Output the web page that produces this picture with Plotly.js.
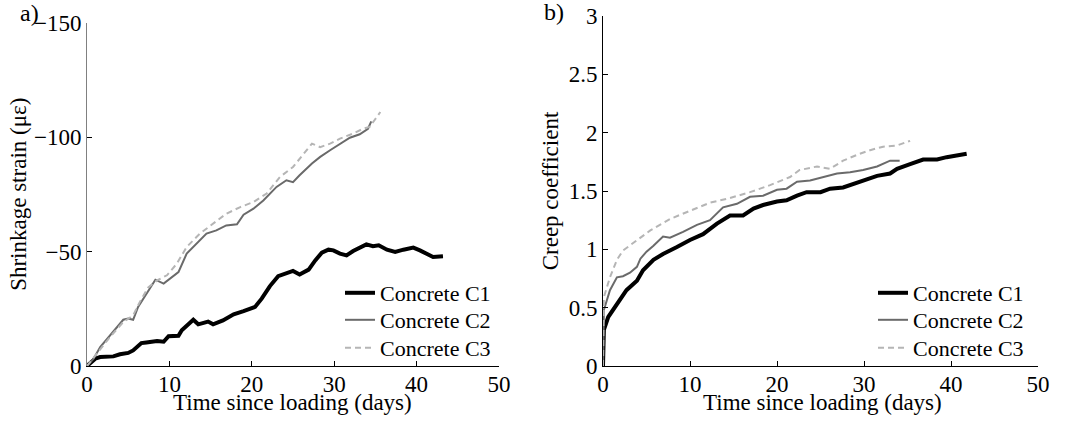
<!DOCTYPE html>
<html>
<head>
<meta charset="utf-8">
<script src="https://cdn.plot.ly/plotly-3.0.1.min.js"></script>
<style>html,body{margin:0;padding:0;background:#fff;}#chart{width:1066px;height:421px;}</style>
</head>
<body>
<div id="chart"></div>
<script>
// ---- Panel a) shrinkage strain (microstrain) ----
const shrinkC1Days = [0,1,1.6,3.2,4,5,5.6,6.6,7.2,8.5,9.3,9.9,11.1,11.5,12.9,13.5,14.7,15.3,16.5,17.8,19,20.4,21.2,22.2,23.2,24.2,25,25.8,26.9,27.7,28.5,29.3,29.9,30.7,31.5,32.3,33.1,33.9,34.7,35.4,36.4,37.4,38.4,39.6,40.4,41.2,42,43.2];
const shrinkC1 = [0,-3.2,-3.9,-4.2,-5.1,-5.7,-6.8,-10,-10.3,-10.9,-10.6,-13,-13.2,-15.6,-20.2,-18.2,-19.4,-18.2,-19.9,-22.6,-24,-25.8,-29.4,-34.9,-39.2,-40.6,-41.5,-40,-42.1,-46.1,-49.5,-50.8,-50.5,-49.1,-48.3,-50.2,-51.7,-53.1,-52.3,-52.7,-50.8,-49.8,-50.8,-51.7,-50.5,-49.1,-47.6,-47.9];

const shrinkC2Days = [0,0.8,1.6,2.8,4.4,5,5.6,6.2,7.2,8.3,9.3,10.1,11.1,12.1,13.3,14.5,15.7,16.9,18.2,19,20.2,21.4,23,24.2,25,25.8,27.3,28.3,29.5,30.7,31.9,33.1,34.1,34.5];
const shrinkC2 = [0,-3.2,-8.3,-13.4,-20.2,-20.7,-20.2,-25.8,-31.6,-37.7,-36,-38.1,-41,-49.1,-53.4,-57.8,-59.2,-61.4,-61.9,-66.1,-68.7,-72.3,-78.2,-81.1,-80.3,-83.3,-88.4,-91.3,-94.2,-97.1,-99.7,-101.2,-103.6,-106.8];

const shrinkC3Days = [0,1.2,2.8,4.4,5.6,6.4,7.4,8.5,9.7,10.9,12.1,13.7,15.3,16.9,18.6,20.2,21.8,23.4,25,26.3,27.3,28.3,29.5,30.7,32.3,33.5,34.3,35.6];
const shrinkC3 = [0,-5.4,-12.7,-19.2,-22.1,-27.9,-34.2,-37.4,-39.6,-44.7,-52,-57.8,-62.2,-66.5,-69.4,-71.6,-75.3,-82.5,-86.9,-92.7,-97.1,-95.6,-97.1,-99.3,-101.5,-103.6,-104.4,-110.9];

// ---- Panel b) creep coefficient ----
const creepC1Days = [0,0.1,0.6,1.6,2.7,3.9,4.6,5.8,6.9,8.5,10,11.5,13.1,14.6,16.1,17.3,18.4,20,21.1,22.3,23.4,25,26.1,27.6,28.8,29.9,31.5,33,33.8,35.3,36.8,38.4,39.5,41.8];
const creepC1 = [0,0.31,0.42,0.53,0.65,0.73,0.82,0.91,0.96,1.02,1.08,1.13,1.22,1.29,1.29,1.35,1.38,1.41,1.42,1.46,1.49,1.49,1.52,1.53,1.56,1.59,1.63,1.65,1.69,1.73,1.77,1.77,1.79,1.82];

const creepC2Days = [0,0.05,0.1,0.8,1.6,2.3,3.1,3.9,4.3,5,5.8,6.9,7.7,9.2,10.8,12.3,13.8,15.4,16.9,18.4,20,21.1,22.3,23.8,25.3,26.9,28.4,29.9,31.5,33,34.1];
const creepC2 = [0,0.35,0.48,0.65,0.76,0.77,0.8,0.85,0.92,0.98,1.03,1.11,1.1,1.15,1.21,1.25,1.36,1.39,1.45,1.46,1.51,1.52,1.58,1.59,1.62,1.65,1.66,1.68,1.71,1.76,1.76];

const creepC3Days = [0,0.1,0.8,1.6,2.3,3.9,5.4,7.7,10,12.3,14.6,16.9,19.2,21.5,22.6,24.6,26.1,27.6,29.2,30.7,32.2,33.8,35.3];
const creepC3 = [0,0.59,0.76,0.91,0.99,1.08,1.16,1.26,1.33,1.40,1.44,1.49,1.55,1.62,1.68,1.71,1.69,1.76,1.81,1.85,1.88,1.89,1.93];

const seriesNames = ['Concrete C1','Concrete C2','Concrete C3'];
const xTicks = [0,10,20,30,40,50];
const shrinkTicks = [-150,-100,-50,0];
const creepTicks = [0,0.5,1,1.5,2,2.5,3];
const xTitle = 'Time since loading (days)';

const FONT = 'Liberation Serif, Times New Roman, serif';
const AXFONT = {family:FONT, size:23, color:'#000'};
const LEGFONT = {family:FONT, size:22, color:'#000'};
const styles = [
  {color:'#000000', width:4, dash:'solid'},
  {color:'#6a6a6a', width:2, dash:'solid'},
  {color:'#b5b5b5', width:2, dash:'6px,4px'}
];

function tr(x, y, i, xa, ya, leg){
  return {x:x, y:y, type:'scatter', mode:'lines', name:seriesNames[i],
    xaxis:xa, yaxis:ya, legend:leg, line:styles[i], hoverinfo:'x+y'};
}

const data = [
  tr(shrinkC1Days, shrinkC1, 0, 'x', 'y', 'legend'),
  tr(shrinkC2Days, shrinkC2, 1, 'x', 'y', 'legend2'),
  tr(shrinkC3Days, shrinkC3, 2, 'x', 'y', 'legend3'),
  tr(creepC1Days, creepC1, 0, 'x2', 'y2', 'legend4'),
  tr(creepC2Days, creepC2, 1, 'x2', 'y2', 'legend5'),
  tr(creepC3Days, creepC3, 2, 'x2', 'y2', 'legend6')
];

const axCommon = {
  showgrid:false, zeroline:false, showline:true, linecolor:'#000', linewidth:1,
  ticks:'inside', ticklen:5, tickcolor:'#000', tickwidth:1, mirror:false,
  tickfont:AXFONT
};
function leg(x, topPx){
  return {font:LEGFONT, bgcolor:'rgba(0,0,0,0)', borderwidth:0, itemwidth:30,
    tracegroupgap:0, xanchor:'left', yanchor:'top', x:x/1066, y:1-topPx/421,
    itemclick:false, itemdoubleclick:false};
}

const layout = {
  width:1066, height:421, margin:{l:0, r:0, t:0, b:0},
  paper_bgcolor:'#fff', plot_bgcolor:'#fff', showlegend:true,
  font:{family:FONT, size:22, color:'#000'},
  xaxis: Object.assign({}, axCommon, {domain:[87/1066, 499/1066], range:[0,50], tickvals:xTicks, anchor:'y', ticklabelstandoff:-3}),
  yaxis: Object.assign({}, axCommon, {domain:[1-366/421, 1-22.5/421], range:[0,-150], tickvals:shrinkTicks,
    linecolor:'#808080', anchor:'x',
    title:{text:'Shrinkage strain (με)', font:AXFONT, standoff:0}}),
  xaxis2: Object.assign({}, axCommon, {domain:[603/1066, 1038/1066], range:[0,50], tickvals:xTicks, anchor:'y2', ticklabelstandoff:-3}),
  yaxis2: Object.assign({}, axCommon, {domain:[1-366/421, 1-16/421], range:[0,3], tickvals:creepTicks,
    anchor:'x2', title:{text:'Creep coefficient', font:AXFONT, standoff:3}}),
  legend: leg(340, 272),
  legend2: leg(340, 299),
  legend3: leg(340, 327),
  legend4: leg(873, 272),
  legend5: leg(873, 299),
  legend6: leg(873, 327),
  annotations:[
    {text:xTitle, xref:'paper', yref:'paper', x:292/1066, y:1-402/421, xanchor:'center', yanchor:'middle', showarrow:false, font:AXFONT},
    {text:xTitle, xref:'paper', yref:'paper', x:822/1066, y:1-402/421, xanchor:'center', yanchor:'middle', showarrow:false, font:AXFONT},
    {text:'a)', xref:'paper', yref:'paper', x:18/1066, y:1-13/421, xanchor:'left', yanchor:'middle', showarrow:false, font:{family:FONT,size:24,color:'#000'}},
    {text:'b)', xref:'paper', yref:'paper', x:542/1066, y:1-12/421, xanchor:'left', yanchor:'middle', showarrow:false, font:{family:FONT,size:24,color:'#000'}}
  ]
};

Plotly.newPlot('chart', data, layout, {displayModeBar:false});
</script>
</body>
</html>
